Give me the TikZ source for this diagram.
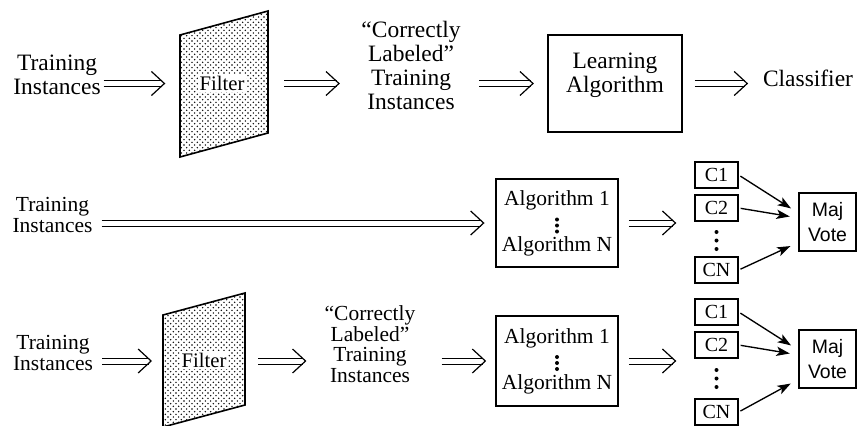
\documentclass[tikz,border=0pt]{standalone}
\usepackage{fontspec}
\setmainfont{Liberation Serif}
\newfontfamily\majfont{Liberation Sans}
\usetikzlibrary{arrows.meta,patterns}

% stipple of the filters
\pgfdeclarepatternformonly{stipple}{\pgfqpoint{-1pt}{-1pt}}{\pgfqpoint{5pt}{5pt}}{\pgfqpoint{4pt}{4pt}}%
  {\pgfpathcircle{\pgfqpoint{0pt}{0pt}}{0.6pt}\pgfpathcircle{\pgfqpoint{2pt}{2pt}}{0.6pt}\pgfusepath{fill}}

\begin{document}
\begin{tikzpicture}[x=0.75pt,y=0.75pt,yscale=-1,xscale=1,
    txt/.style={align=center,inner sep=2pt},
    rowone/.style={font=\fontsize{17.6}{18}\selectfont},
    rowtwo/.style={font=\fontsize{16.1}{15.5}\selectfont},
    box/.style={draw,line width=1.2pt,align=center,inner sep=0pt},
    cbox/.style={draw,line width=1pt,minimum width=32.25pt,minimum height=19.5pt,inner sep=0pt,font=\fontsize{15}{15}\selectfont},
    majbox/.style={draw,line width=1pt,minimum width=42.75pt,minimum height=43.5pt,inner sep=0pt,align=center,font=\majfont\fontsize{14.6}{18.75}\selectfont},
    filt/.style={draw,line width=1.2pt,pattern=stipple},
    filtlab/.style={fill=white,inner sep=1.5pt,font=\fontsize{15.5}{15.5}\selectfont},
    dbl/.style 2 args={draw=white,line width=0.9pt,shorten <=#1,shorten >=#2,
      -{Straight Barb[length=9.75pt,width=18pt,color=black]},
      preaction={draw=black,-,shorten <=#1,shorten >=#2+2.4pt,transform canvas={yshift=2.25pt}},
      preaction={draw=black,-,shorten <=#1,shorten >=#2+2.4pt,transform canvas={yshift=-2.25pt}}},
    vote/.style={line width=1pt,-{Stealth[length=10pt,width=7pt,inset=2.5pt]},shorten <=1.5pt,shorten >=6.5pt}]
    \useasboundingbox (0,0) rectangle (857,425);
    \clip (0,0) rectangle (857,425);

    %Shape: Polygon [filter, top row]
    \draw[filt] (180,35) -- (268,11) -- (268,133) -- (180,157) -- cycle;
    \coordinate (fin1) at (180,83.5);
    \coordinate (fout1) at (268,83.5);
    %Shape: Polygon [filter, bottom row]
    \draw[filt] (163,315) -- (245,293) -- (245,405) -- (163,427) -- cycle;
    \coordinate (fin3) at (163,361);
    \coordinate (fout3) at (245,361);

    % Text Node
    \node[txt,rowone] (tr1) at (57,74.5) {Training\\Instances};
    % Text Node
    \node[filtlab] (filt1) at (222,83) {Filter};
    % Text Node
    \node[txt,rowone] (cl1) at (411,65) {“Correctly\\Labeled”\\Training\\Instances};
    %Shape: Rectangle
    \node[box,rowone,minimum width=100.5pt,minimum height=72.75pt,text depth=15.9pt] (la) at (615,83.5) {Learning\\Algorithm};
    % Text Node
    \node[txt,rowone] (cls) at (808,78) {Classifier};

    % Text Node
    \node[txt,rowtwo] (tr2) at (52.5,215) {Training\\Instances};
    %Shape: Rectangle
    \node[box,rowtwo,minimum width=91.5pt,minimum height=66pt] (alg2) at (557,223) {Algorithm 1\\[19pt]Algorithm N};
    \fill (557,219.5) circle (2) (557,225.5) circle (2) (557,231.5) circle (2);
    %Shape: Rectangle
    \node[cbox] (c12) at (716.5,175) {C1};
    \node[cbox] (c22) at (716.5,208) {C2};
    \node[cbox] (cn2) at (716.5,270) {CN};
    \fill (716.5,232) circle (2) (716.5,240.5) circle (2) (716.5,249) circle (2);
    %Shape: Rectangle
    \node[majbox] (maj2) at (827.5,222) {Maj\\Vote};

    % Text Node
    \node[txt,rowtwo] (tr3) at (53,353) {Training\\Instances};
    % Text Node
    \node[filtlab] (filt3) at (204,360) {Filter};
    % Text Node
    \node[txt,rowtwo] (cl3) at (370,344) {“Correctly\\Labeled”\\Training\\Instances};
    %Shape: Rectangle
    \node[box,rowtwo,minimum width=91.5pt,minimum height=67.5pt] (alg3) at (557,361) {Algorithm 1\\[19pt]Algorithm N};
    \fill (557,357) circle (2) (557,363) circle (2) (557,369) circle (2);
    %Shape: Rectangle
    \node[cbox] (c13) at (716.5,312) {C1};
    \node[cbox] (c23) at (716.5,345) {C2};
    \node[cbox] (cn3) at (716.5,412) {CN};
    \fill (716.5,370) circle (2) (716.5,378.5) circle (2) (716.5,387) circle (2);
    %Shape: Rectangle
    \node[majbox] (maj3) at (827.5,359) {Maj\\Vote};

    %Straight Lines
    \draw[dbl={0pt}{11pt}] (tr1.east |- la) -- (fin1);
    \draw[dbl={12pt}{14pt}] (fout1) -- (cl1.west |- la);
    \draw[dbl={12pt}{10pt}] (cl1.east |- la) -- (la.west);
    \draw[dbl={9pt}{9pt}] (la.east) -- (cls.west |- la);

    %Straight Lines
    \draw[dbl={4.7pt}{8pt}] (tr2.east |- alg2) -- (alg2.west);
    \draw[dbl={7.5pt}{13.5pt}] (alg2.east) -- (c22.west |- alg2);
    \draw[vote] (c12.east) -- (maj2.163);
    \draw[vote] (c22.east) -- (maj2.172);
    \draw[vote] (cn2.east) -- (maj2.215);

    %Straight Lines
    \draw[dbl={4.7pt}{8.25pt}] (tr3.east |- alg3) -- (fin3);
    \draw[dbl={9.75pt}{11.5pt}] (fout3) -- (cl3.west |- alg3);
    \draw[dbl={17.5pt}{6.75pt}] (cl3.east |- alg3) -- (alg3.west);
    \draw[dbl={7.5pt}{13.5pt}] (alg3.east) -- (c23.west |- alg3);
    \draw[vote] (c13.east) -- (maj3.163);
    \draw[vote] (c23.east) -- (maj3.172);
    \draw[vote] (cn3.east) -- (maj3.215);
\end{tikzpicture}
\end{document}
